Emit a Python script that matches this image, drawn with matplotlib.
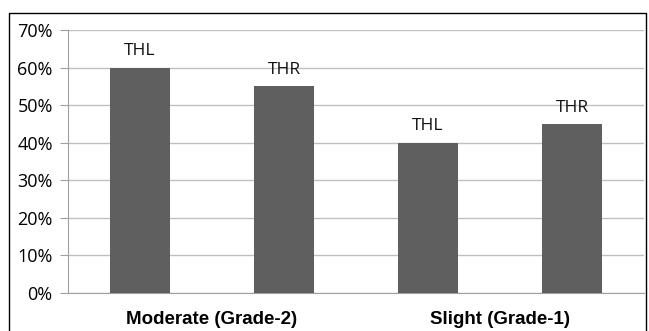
import matplotlib
matplotlib.use("Agg")
import matplotlib.pyplot as plt
from matplotlib.patches import Rectangle
from matplotlib.ticker import PercentFormatter

categories = ["Moderate (Grade-2)", "Slight (Grade-1)"]
bar_labels = ["THL", "THR", "THL", "THR"]
values = [60, 55, 40, 45]
yticks = [0, 10, 20, 30, 40, 50, 60, 70]

W, H = 649, 331
fig = plt.figure(figsize=(W / 100, H / 100), dpi=100)
ax = fig.add_axes([68 / W, 1 - 293 / H, (644 - 68) / W, (293 - 30) / H])

xs = [0.25, 0.75, 1.25, 1.75]
bars = ax.bar(xs, values, width=0.205, color="#5f5f5f", zorder=3)
for b, lab in zip(bars, bar_labels):
    ax.annotate(lab, (b.get_x() + b.get_width() / 2, b.get_height()),
                xytext=(0, 6), textcoords="offset points", ha="center", va="bottom",
                fontsize=12.5, family="Open Sans", color="#111111")

ax.set_xlim(0, 2)
ax.set_ylim(0, 70)
ax.set_yticks(yticks)
ax.yaxis.set_major_formatter(PercentFormatter(decimals=0))
ax.set_xticks([0.5, 1.5])
ax.set_xticklabels(categories, fontsize=13.5, fontweight="bold", family="Liberation Sans")
ax.tick_params(axis="x", length=0, pad=13)
ax.tick_params(axis="y", length=6, color="#a0a0a0", labelsize=13, pad=5)
for lab in ax.get_yticklabels():
    lab.set_family("Open Sans")
ax.grid(axis="y", color="#c0c0c0", lw=1, zorder=0)
for s in ["top", "right"]:
    ax.spines[s].set_visible(False)
for s in ["left", "bottom"]:
    ax.spines[s].set_color("#a0a0a0")

fig.patches.append(Rectangle((9 / W, -0.01), (646 - 9) / W, 1.01 - 13 / H,
                             transform=fig.transFigure, fill=False, ec="black", lw=1))
fig.savefig("out.png", dpi=100)
